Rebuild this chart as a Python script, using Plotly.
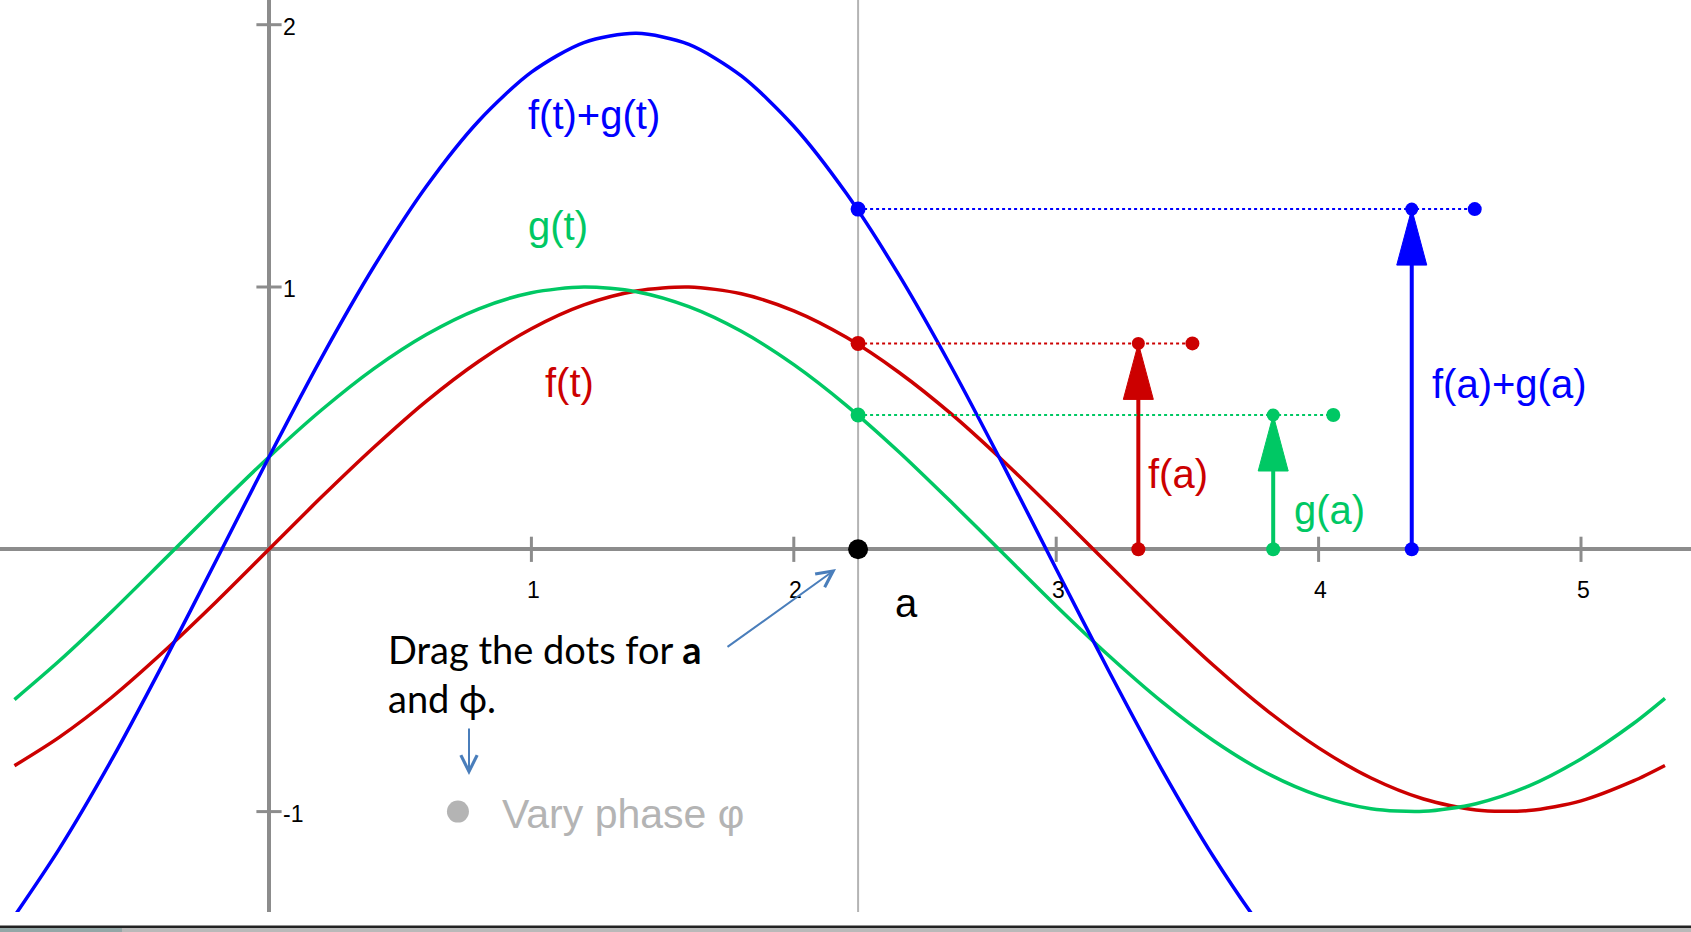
import plotly.graph_objects as go

# ---- curve samples: t, f(t), g(t) and their sum ----
t = [-0.97, -0.8, -0.6, -0.4, -0.2, 0.0, 0.2, 0.4, 0.6, 0.8, 1.0,
     1.2, 1.4, 1.6, 1.8, 2.0, 2.2, 2.4, 2.6, 2.8, 3.0, 3.2, 3.4, 3.6,
     3.8, 4.0, 4.2, 4.4, 4.6, 4.8, 5.0, 5.2, 5.32]
f_vals = [-0.825, -0.717, -0.565, -0.389, -0.199, 0.000, 0.199, 0.389, 0.565,
          0.717, 0.841, 0.932, 0.985, 1.000, 0.974, 0.909, 0.808, 0.675,
          0.516, 0.335, 0.141, -0.058, -0.256, -0.443, -0.612, -0.757,
          -0.872, -0.952, -0.994, -0.996, -0.959, -0.883, -0.824]
g_vals = [-0.573, -0.426, -0.238, -0.040, 0.159, 0.352, 0.531, 0.689, 0.819,
          0.917, 0.978, 1.000, 0.982, 0.925, 0.831, 0.704, 0.549, 0.372,
          0.180, -0.018, -0.216, -0.405, -0.579, -0.730, -0.852, -0.939,
          -0.989, -0.999, -0.970, -0.903, -0.799, -0.664, -0.568]
sum_vals = [-1.398, -1.143, -0.803, -0.429, -0.040, 0.352, 0.730, 1.078, 1.384,
            1.634, 1.819, 1.932, 1.967, 1.925, 1.805, 1.613, 1.357, 1.047,
            0.696, 0.317, -0.075, -0.463, -0.835, -1.173, -1.464, -1.696,
            -1.861, -1.951, -1.964, -1.899, -1.758, -1.547, -1.392]

# ---- the chosen point a and the values there ----
a = 2.245
value_names = ["f", "g", "sum"]
values_at_a = [0.785, 0.512, 1.297]
arrow_x = [3.313, 3.827, 4.355]
end_dot_x = [3.519, 4.056, 4.595]

x_ticks = [1, 2, 3, 4, 5]
y_ticks = [2, 1, -1]
phase_dot_x = [0.72]
phase_dot_y = [-1.0]

RED = "#cc0000"
GREEN = "#00c864"
BLUE = "#0000ff"
AXIS = "#8c8c8c"
colors = {"f": RED, "g": GREEN, "sum": BLUE}

W, H = 1691, 932
PLOT_H = 912
X0_PX, Y0_PX = 269.0, 549.3
UX, UY = 262.4, 262.3
x_range = [-X0_PX / UX, (W - X0_PX) / UX]
y_range = [-(PLOT_H - Y0_PX) / UY, Y0_PX / UY]


def dx(px):
    return (px - X0_PX) / UX


def dy(py):
    return (Y0_PX - py) / UY


HEAD_HW = 15 / UX   # arrowhead half width
HEAD_H = 56 / UY    # arrowhead length

fig = go.Figure()

# curves
for name, ys in (("f", f_vals), ("g", g_vals), ("sum", sum_vals)):
    fig.add_trace(go.Scatter(x=t, y=ys, mode="lines",
                             line=dict(color=colors[name], width=3.5,
                                       shape="spline", smoothing=0.8),
                             hoverinfo="skip"))

# axis ticks crossing the axes
fig.add_trace(go.Scatter(x=x_ticks, y=[0] * len(x_ticks), mode="markers",
                         marker=dict(symbol="line-ns", size=18,
                                     line=dict(width=3, color=AXIS)),
                         hoverinfo="skip"))
fig.add_trace(go.Scatter(x=[0] * len(y_ticks), y=y_ticks, mode="markers",
                         marker=dict(symbol="line-ew", size=18,
                                     line=dict(width=3, color=AXIS)),
                         hoverinfo="skip"))

# dotted guides, vectors and their dots
for name, v, ax_, ex in zip(value_names, values_at_a, arrow_x, end_dot_x):
    c = colors[name]
    fig.add_trace(go.Scatter(x=[a, ex], y=[v, v], mode="lines",
                             line=dict(color=c, width=2, dash="dot"),
                             hoverinfo="skip"))
    fig.add_trace(go.Scatter(x=[ax_, ax_], y=[0, v - HEAD_H + 0.01],
                             mode="lines", line=dict(color=c, width=4),
                             hoverinfo="skip"))
    fig.add_trace(go.Scatter(x=[ax_ - HEAD_HW, ax_, ax_ + HEAD_HW, ax_ - HEAD_HW],
                             y=[v - HEAD_H, v, v - HEAD_H, v - HEAD_H],
                             mode="lines", fill="toself", fillcolor=c,
                             line=dict(color=c, width=1), hoverinfo="skip"))
    fig.add_trace(go.Scatter(x=[a, ax_, ax_, ex], y=[v, 0, v, v],
                             mode="markers",
                             marker=dict(color=c, size=[15, 14, 13, 14],
                                         opacity=1, line=dict(width=0)),
                             hoverinfo="skip"))

# the draggable point a on the t-axis and the phase control point
fig.add_trace(go.Scatter(x=[a], y=[0], mode="markers",
                         marker=dict(color="black", size=20, line=dict(width=0)),
                         hoverinfo="skip"))
fig.add_trace(go.Scatter(x=phase_dot_x, y=phase_dot_y, mode="markers",
                         marker=dict(color="#b4b4b4", size=22, line=dict(width=0)),
                         hoverinfo="skip"))

annotations = []
TICK_FONT = dict(family="Liberation Sans, Arial, sans-serif", size=23, color="black")
for xt in x_ticks:
    annotations.append(dict(x=xt, y=0, xref="x", yref="y", text=str(xt),
                            showarrow=False, yshift=-41, xshift=2,
                            xanchor="center", yanchor="middle", font=TICK_FONT))
for yt in y_ticks:
    annotations.append(dict(x=0, y=yt, xref="x", yref="y", text=str(yt),
                            showarrow=False, xshift=12, yshift=-2,
                            xanchor="left", yanchor="middle", font=TICK_FONT))

LABEL = "Liberation Sans, Arial, sans-serif"
labels = [
    ("f(t)+g(t)", 526, 115, BLUE),
    ("g(t)", 526, 226, GREEN),
    ("f(t)", 543, 383, RED),
    ("f(a)", 1146, 474, RED),
    ("g(a)", 1292, 510, GREEN),
    ("f(a)+g(a)", 1430, 384, BLUE),
    ("a", 893, 603, "black"),
]
for txt, px, py, col in labels:
    annotations.append(dict(x=dx(px), y=dy(py), xref="x", yref="y", text=txt,
                            showarrow=False, xanchor="left", yanchor="middle",
                            font=dict(family=LABEL, size=40, color=col)))

annotations.append(dict(x=dx(500), y=dy(814), xref="x", yref="y",
                        text="Vary phase φ", showarrow=False,
                        xanchor="left", yanchor="middle",
                        font=dict(family=LABEL, size=41, color="#b4b4b4")))

NOTE = dict(family="Lato, Carlito, sans-serif", size=38, color="black")
annotations.append(dict(x=dx(386), y=dy(649), xref="x", yref="y",
                        text="Drag the dots for <b>a</b>", showarrow=False,
                        xanchor="left", yanchor="middle", font=NOTE))
annotations.append(dict(x=dx(386), y=dy(698), xref="x", yref="y",
                        text="and ϕ.", showarrow=False,
                        xanchor="left", yanchor="middle", font=NOTE))

# pointer arrows
HINT = "#4a7ebb"
annotations.append(dict(x=dx(836), y=dy(569), ax=dx(726), ay=dy(648),
                        xref="x", yref="y", axref="x", ayref="y", text="",
                        showarrow=True, arrowhead=5, arrowsize=1.6,
                        arrowwidth=2, arrowcolor=HINT))
annotations.append(dict(x=dx(469), y=dy(775), ax=dx(469), ay=dy(727),
                        xref="x", yref="y", axref="x", ayref="y", text="",
                        showarrow=True, arrowhead=5, arrowsize=1.6,
                        arrowwidth=2, arrowcolor=HINT))

shapes = [
    dict(type="line", xref="x", yref="paper", x0=a, x1=a, y0=0, y1=1,
         line=dict(color="#b4b4b4", width=2), layer="below"),
    # window frame at the bottom
    dict(type="rect", xref="paper", yref="paper", x0=0, x1=1,
         y0=(PLOT_H - 932) / PLOT_H, y1=(PLOT_H - 928) / PLOT_H,
         fillcolor="#b9b9b9", line=dict(width=0)),
    dict(type="rect", xref="paper", yref="paper", x0=0, x1=122 / W,
         y0=(PLOT_H - 932) / PLOT_H, y1=(PLOT_H - 928) / PLOT_H,
         fillcolor="#94a7a7", line=dict(width=0)),
    dict(type="rect", xref="paper", yref="paper", x0=0, x1=1,
         y0=(PLOT_H - 928) / PLOT_H, y1=(PLOT_H - 925.5) / PLOT_H,
         fillcolor="#222222", line=dict(width=0)),
]

fig.update_layout(
    width=W, height=H, autosize=False,
    margin=dict(l=0, r=0, t=0, b=H - PLOT_H, pad=0),
    paper_bgcolor="white", plot_bgcolor="white",
    showlegend=False,
    xaxis=dict(range=x_range, showgrid=False, showticklabels=False,
               ticks="", zeroline=True, zerolinecolor=AXIS,
               zerolinewidth=3.5, showline=False, fixedrange=True),
    yaxis=dict(range=y_range, showgrid=False, showticklabels=False,
               ticks="", zeroline=True, zerolinecolor=AXIS,
               zerolinewidth=3.5, showline=False, fixedrange=True),
    annotations=annotations,
    shapes=shapes,
)

fig.write_html("out.html", config=dict(displayModeBar=False))
